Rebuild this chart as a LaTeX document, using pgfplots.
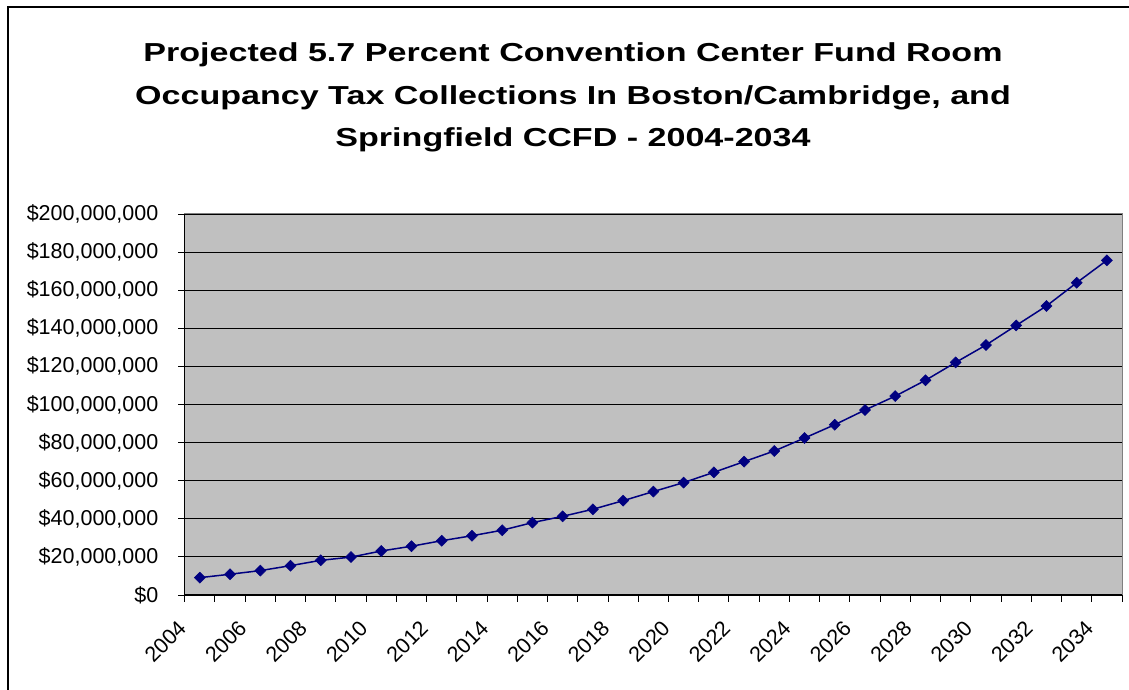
\documentclass[border=0pt]{standalone}
\usepackage{pgfplots}
\pgfplotsset{compat=1.18}
\usepackage{fontspec}
\setmainfont{Liberation Sans}
\definecolor{navyline}{HTML}{000080}
\definecolor{plotgray}{HTML}{C0C0C0}
\definecolor{frame}{HTML}{808080}
\pgfplotstableread{
idx value
0 9100000
1 10900000
2 12800000
3 15400000
4 18200000
5 19900000
6 23100000
7 25600000
8 28500000
9 31100000
10 34000000
11 38000000
12 41300000
13 45000000
14 49500000
15 54300000
16 59000000
17 64400000
18 70000000
19 75600000
20 82400000
21 89400000
22 97100000
23 104400000
24 112700000
25 122100000
26 131200000
27 141500000
28 151700000
29 163900000
30 175700000
}\datatable
\begin{document}
\begin{tikzpicture}[x=1pt,y=1pt]
\useasboundingbox (0pt,0pt) rectangle (1129pt,690pt);
\draw[line width=1.5pt] (8pt,0pt) -- (8pt,683pt) -- (1129pt,683pt);
\node[font=\fontsize{26}{31}\selectfont\bfseries, anchor=base, inner sep=0pt] at (573pt,628pt) {\scalebox{1.31}[1]{Projected 5.7 Percent Convention Center Fund Room}};
\node[font=\fontsize{26}{31}\selectfont\bfseries, anchor=base, inner sep=0pt] at (573pt,585pt) {\scalebox{1.31}[1]{Occupancy Tax Collections In Boston/Cambridge, and}};
\node[font=\fontsize{26}{31}\selectfont\bfseries, anchor=base, inner sep=0pt] at (573pt,543pt) {\scalebox{1.31}[1]{Springfield CCFD - 2004-2034}};
\begin{axis}[
  at={(184.7pt,95pt)}, anchor=south west,
  scale only axis, width=937.3pt, height=381pt,
  xmin=-0.5, xmax=30.5, ymin=0, ymax=200000000,
  scaled y ticks=false,
  axis background/.style={fill=plotgray},
  axis line style={frame, line width=1pt},
  xtick={-0.5,0.5,1.5,2.5,3.5,4.5,5.5,6.5,7.5,8.5,9.5,10.5,11.5,12.5,13.5,14.5,15.5,16.5,17.5,18.5,19.5,20.5,21.5,22.5,23.5,24.5,25.5,26.5,27.5,28.5,29.5,30.5},
  xticklabels={},
  extra x ticks={0,2,4,6,8,10,12,14,16,18,20,22,24,26,28,30},
  extra x tick labels={2004,2006,2008,2010,2012,2014,2016,2018,2020,2022,2024,2026,2028,2030,2032,2034},
  extra x tick style={major tick length=0pt, grid=none,
    xticklabel style={font=\fontsize{21.5}{24}\selectfont, inner sep=0pt, xshift=-23pt, yshift=-24pt, rotate=45, anchor=north east}},
  ytick={0,20000000,40000000,60000000,80000000,100000000,120000000,140000000,160000000,180000000,200000000},
  yticklabels={\$0,{\$20,000,000},{\$40,000,000},{\$60,000,000},{\$80,000,000},{\$100,000,000},{\$120,000,000},{\$140,000,000},{\$160,000,000},{\$180,000,000},{\$200,000,000}},
  yticklabel style={font=\fontsize{21.5}{24}\selectfont, anchor=east, inner sep=0pt, xshift=-19.7pt},
  ymajorgrids, grid style={black, line width=0.9pt},
  tick align=outside, major tick length=6.5pt,
  tick style={black, line width=0.9pt},
  xtick pos=bottom, ytick pos=left,
  clip=false,
]
\draw[black, line width=1pt] (rel axis cs:0,1) -- (rel axis cs:0,0) -- (rel axis cs:1,0);
\addplot[navyline, line width=1.5pt, mark=square*, mark size=3.9pt, mark options={rotate=45, fill=navyline, draw=navyline, line width=0.5pt}] table[x=idx, y=value] {\datatable};
\end{axis}
\end{tikzpicture}
\end{document}
